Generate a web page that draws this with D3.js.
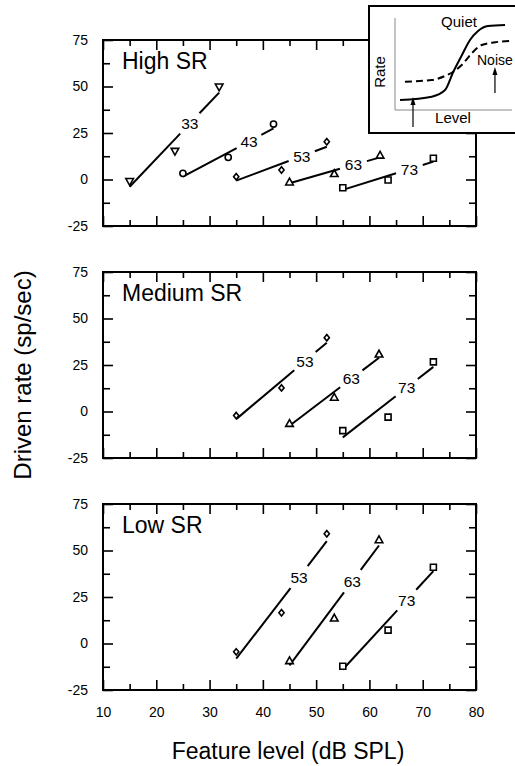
<!DOCTYPE html>
<html><head><meta charset="utf-8">
<script src="https://cdn.jsdelivr.net/npm/d3@7"></script>
<style>
html,body{margin:0;padding:0;background:#fff;}
svg{display:block;font-family:"Liberation Sans",Arial,Helvetica,sans-serif;}
</style></head>
<body>
<svg id="chart" width="515" height="766"></svg>
<script>
// ---------- data ----------
const xMajorTicks = [10,20,30,40,50,60,70,80];
const xMinorTicks = [15,25,35,45,55,65,75];
const yMajorTicks = [-25,0,25,50,75];
const yMinorTicks = [-12.5,12.5,37.5,62.5];
const panelNames = ["High SR","Medium SR","Low SR"];

// High SR
const highLevels = [33,43,53,63,73];
const highSymbols = ["triDown","circle","diamond","triUp","square"];
const highX = [[15,23.5,31.8],[25,33.5,42],[35,43.5,52],[45,53.4,62],[55,63.5,72]];
const highY = [[-1.2,15,49.6],[3.3,11.9,29.8],[1.5,5.1,20.3],[-1.2,3.3,13.2],[-4.4,-0.3,11.4]];
const highFitY = [[-3.9,46.7],[1.5,27.5],[-0.6,17.6],[-2,11.9],[-5.6,9.6]];
const highLabelX = [26.3,37.4,47.3,57,67.5];

// Medium SR
const medLevels = [53,63,73];
const medSymbols = ["diamond","triUp","square"];
const medX = [[35,43.5,52],[45,53.4,61.8],[55,63.5,72]];
const medY = [[-2.2,12.7,39.7],[-6.3,7.8,31],[-10.3,-3,26.7]];
const medFitY = [[-4.1,37],[-7.7,28.9],[-13.9,24]];
const medLabelX = [47.9,56.6,67];

// Low SR
const lowLevels = [53,63,73];
const lowSymbols = ["diamond","triUp","square"];
const lowX = [[35,43.5,52],[45,53.4,61.8],[55,63.5,72]];
const lowY = [[-4.5,16.5,59],[-9.1,13.8,55.9],[-12.2,7.2,41]];
const lowFitY = [[-8.1,55],[-11.8,52.7],[-14,38.9]];
const lowLabelX = [46.8,56.8,67];

// Inset (schematic, arbitrary 0-100 units)
const quietLevel = [4.2,30.6,41.7,48.6,55.8,62.5,69.2,77.5,91.7];
const quietRate  = [10.9,14.5,21.7,41.6,59.8,76.1,85.9,91.3,92.4];
const noiseLevel = [8.3,30.6,41.7,48.6,55.6,63.9,72.3,83.3,95.8];
const noiseRate  = [30.8,32.6,37,41.6,48.9,61.6,70.7,73.6,75];
const arrowLevel = [15,83.3];
const arrowFrom  = [-18.5,18.5];
const arrowTo    = [14.1,46.7];

// ---------- layout ----------
const svg = d3.select("#chart");
const left = 103, right = 476, panelH = 186;
const panelTops = [40,272,504];
const x = d3.scaleLinear().domain([10,80]).range([left,right]);
const fmt = d => String(d);

const panelData = [
  {levels:highLevels, sym:highSymbols, xs:highX, ys:highY, fit:highFitY, lx:highLabelX},
  {levels:medLevels, sym:medSymbols, xs:medX, ys:medY, fit:medFitY, lx:medLabelX},
  {levels:lowLevels, sym:lowSymbols, xs:lowX, ys:lowY, fit:lowFitY, lx:lowLabelX}
];

function symbolPath(name){
  switch(name){
    case "triDown": return "M-3.8,-3.2L3.8,-3.2L0,3.6Z";
    case "triUp": return "M-3.8,3.2L3.8,3.2L0,-3.6Z";
    case "circle": return d3.symbol(d3.symbolCircle, 30)();
    case "diamond": return "M0,-3.2L2.6,0L0,3.2L-2.6,0Z";
    case "square": return "M-3,-3L3,-3L3,3L-3,3Z";
  }
}

panelData.forEach((pd, pi) => {
  const top = panelTops[pi];
  const y = d3.scaleLinear().domain([-25,75]).range([top+panelH, top]);
  const g = svg.append("g");

  const styleAxis = sel => { sel.select(".domain").remove(); sel.selectAll("line").attr("stroke","#000").attr("stroke-width",1.6); sel.selectAll("text").attr("font-size",14).attr("fill","#000").attr("font-family","Liberation Sans, Arial, sans-serif"); };
  g.append("g").attr("transform",`translate(${left},0)`)
    .call(d3.axisLeft(y).tickValues(yMajorTicks).tickFormat(fmt).tickSizeInner(-10).tickSizeOuter(0).tickPadding(15)).call(styleAxis);
  g.append("g").attr("transform",`translate(${left},0)`)
    .call(d3.axisLeft(y).tickValues(yMinorTicks).tickSizeInner(-7).tickSizeOuter(0).tickFormat("")).call(styleAxis);
  g.append("g").attr("transform",`translate(${right},0)`)
    .call(d3.axisRight(y).tickValues(yMajorTicks).tickSizeInner(-10).tickSizeOuter(0).tickFormat("")).call(styleAxis);
  g.append("g").attr("transform",`translate(${right},0)`)
    .call(d3.axisRight(y).tickValues(yMinorTicks).tickSizeInner(-7).tickSizeOuter(0).tickFormat("")).call(styleAxis);
  const xb = d3.axisBottom(x).tickValues(xMajorTicks).tickFormat(fmt).tickSizeInner(-10).tickSizeOuter(0).tickPadding(17);
  if (pi < 2) xb.tickFormat("");
  g.append("g").attr("transform",`translate(0,${top+panelH})`).call(xb).call(styleAxis);
  g.append("g").attr("transform",`translate(0,${top+panelH})`)
    .call(d3.axisBottom(x).tickValues(xMinorTicks).tickSizeInner(-6).tickSizeOuter(0).tickFormat("")).call(styleAxis);
  g.append("g").attr("transform",`translate(0,${top})`)
    .call(d3.axisTop(x).tickValues(xMajorTicks).tickSizeInner(-10).tickSizeOuter(0).tickFormat("")).call(styleAxis);
  g.append("g").attr("transform",`translate(0,${top})`)
    .call(d3.axisTop(x).tickValues(xMinorTicks).tickSizeInner(-6).tickSizeOuter(0).tickFormat("")).call(styleAxis);

  g.append("rect").attr("x",left).attr("y",top).attr("width",right-left).attr("height",panelH)
    .attr("fill","none").attr("stroke","#000").attr("stroke-width",2);

  g.append("text").attr("x",122).attr("y",top+29).attr("font-size",23).text(panelNames[pi]);

  pd.levels.forEach((lev, si) => {
    const xs = pd.xs[si], ys = pd.ys[si];
    const fx0 = xs[0], fx1 = xs[xs.length-1];
    const p0 = [x(fx0), y(pd.fit[si][0])], p1 = [x(fx1), y(pd.fit[si][1])];
    const t = (pd.lx[si]-fx0)/(fx1-fx0);
    const pc = [p0[0]+t*(p1[0]-p0[0]), p0[1]+t*(p1[1]-p0[1])];
    const len = Math.hypot(p1[0]-p0[0], p1[1]-p0[1]);
    const u = [(p1[0]-p0[0])/len, (p1[1]-p0[1])/len];
    const gap = 14;
    const line = d3.line();
    g.append("path").attr("d", line([p0,[pc[0]-gap*u[0], pc[1]-gap*u[1]]]))
      .attr("stroke","#000").attr("stroke-width",2).attr("fill","none");
    g.append("path").attr("d", line([[pc[0]+gap*u[0], pc[1]+gap*u[1]], p1]))
      .attr("stroke","#000").attr("stroke-width",2).attr("fill","none");
    g.append("text").attr("x",pc[0]).attr("y",pc[1]).attr("dy","0.35em")
      .attr("text-anchor","middle").attr("font-size",15.5).text(lev);
    xs.forEach((xv, k) => {
      g.append("path").attr("d", symbolPath(pd.sym[si]))
        .attr("transform",`translate(${x(xv)},${y(ys[k])})`)
        .attr("fill","#fff").attr("stroke","#000").attr("stroke-width",1.6);
    });
  });
});

svg.append("text").attr("x",288).attr("y",759).attr("text-anchor","middle")
  .attr("font-size",23).text("Feature level (dB SPL)");
svg.append("text").attr("transform","translate(31,375) rotate(-90)").attr("text-anchor","middle")
  .attr("font-size",24).text("Driven rate (sp/sec)");

// ---------- inset ----------
const ins = svg.append("g");
ins.append("rect").attr("x",369).attr("y",6).attr("width",170).attr("height",127)
  .attr("fill","#fff").attr("stroke","#000").attr("stroke-width",2);
const ix = d3.scaleLinear().domain([0,100]).range([395,515]);
const iy = d3.scaleLinear().domain([0,100]).range([110,18]);
ins.append("path").attr("d", d3.line()([[ix(0),iy(100)],[ix(0),iy(0)],[ix(97.5),iy(0)]]))
  .attr("fill","none").attr("stroke","#888").attr("stroke-width",1);
const cl = d3.line().x(d=>ix(d[0])).y(d=>iy(d[1])).curve(d3.curveMonotoneX);
ins.append("path").attr("d", cl(quietLevel.map((v,i)=>[v,quietRate[i]])))
  .attr("fill","none").attr("stroke","#000").attr("stroke-width",2);
ins.append("path").attr("d", cl(noiseLevel.map((v,i)=>[v,noiseRate[i]])))
  .attr("fill","none").attr("stroke","#000").attr("stroke-width",2).attr("stroke-dasharray","7,4");
arrowLevel.forEach((lv,i)=>{
  const ax = ix(lv), y0 = iy(arrowFrom[i]), y1 = iy(arrowTo[i]);
  ins.append("line").attr("x1",ax).attr("x2",ax).attr("y1",y0).attr("y2",y1+4)
    .attr("stroke","#000").attr("stroke-width",1.2);
  ins.append("path").attr("d",`M${ax},${y1}L${ax-2.5},${y1+8}L${ax+2.5},${y1+8}Z`).attr("fill","#000");
});
ins.append("text").attr("x",459).attr("y",27).attr("text-anchor","middle").attr("font-size",15).text("Quiet");
ins.append("text").attr("x",477).attr("y",65).attr("font-size",14).text("Noise");
ins.append("text").attr("x",453).attr("y",123).attr("text-anchor","middle").attr("font-size",15).text("Level");
ins.append("text").attr("transform","translate(385,72) rotate(-90)").attr("text-anchor","middle").attr("font-size",15).text("Rate");
</script>
</body></html>
